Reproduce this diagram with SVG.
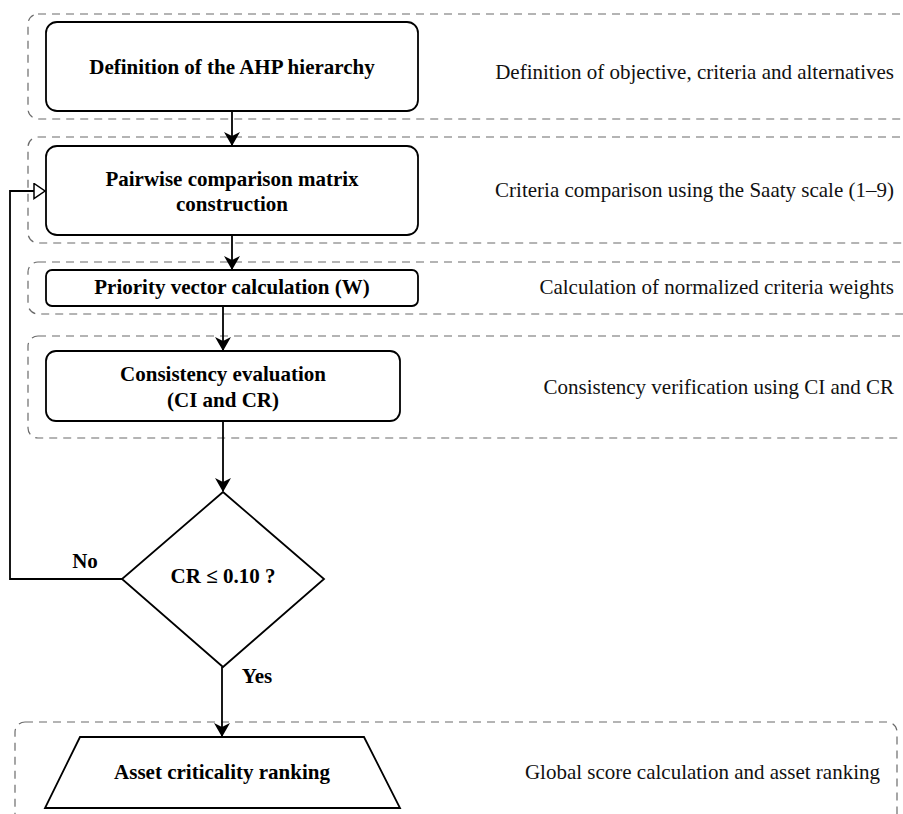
<svg xmlns="http://www.w3.org/2000/svg" width="903" height="814" viewBox="0 0 903 814">
<style>
.cont{fill:none;stroke:#6b6b6b;stroke-width:1.2;stroke-dasharray:8 6}
.box{fill:#fff;stroke:#000;stroke-width:1.8}
.bt{font-family:"Liberation Serif","Times New Roman",serif;font-weight:bold;font-size:21px;fill:#000;text-anchor:middle}
.rt{font-family:"Liberation Serif","Times New Roman",serif;font-size:21px;fill:#111;text-anchor:end}
.edge{fill:none;stroke:#000;stroke-width:1.8}
</style>
<defs>
<marker id="arr" viewBox="0 0 14 16" refX="13" refY="8" markerWidth="14" markerHeight="16" markerUnits="userSpaceOnUse" orient="auto">
<path d="M0,0 L14,8 L0,16 L4,8 Z" fill="#000"/>
</marker>
<marker id="open" viewBox="0 0 13 17" refX="12" refY="8.5" markerWidth="13" markerHeight="17" markerUnits="userSpaceOnUse" orient="auto">
<path d="M1,1 L12,8.5 L1,16 Z" fill="#fff" stroke="#000" stroke-width="1.5"/>
</marker>
</defs>
<g id="containers">
<rect class="cont" x="28" y="14" width="890" height="105" rx="10"/>
<rect class="cont" x="28" y="137" width="890" height="106" rx="10"/>
<rect class="cont" x="28" y="262" width="890" height="52" rx="10"/>
<rect class="cont" x="28" y="336" width="890" height="102" rx="10"/>
<rect class="cont" x="15" y="722" width="882" height="110" rx="10"/>
</g>
<g id="connectors">
<line class="edge" x1="232" y1="111" x2="232" y2="145" marker-end="url(#arr)"/>
<line class="edge" x1="232" y1="235" x2="232" y2="269" marker-end="url(#arr)"/>
<line class="edge" x1="223" y1="306" x2="223" y2="350" marker-end="url(#arr)"/>
<line class="edge" x1="223" y1="421" x2="223" y2="491" marker-end="url(#arr)"/>
<line class="edge" x1="222" y1="667" x2="222" y2="736" marker-end="url(#arr)"/>
<polyline class="edge" points="122,579 10,579 10,191 45,191" marker-end="url(#open)"/>
<text class="bt" x="85" y="568">No</text>
<text class="bt" x="257" y="683">Yes</text>
</g>
<g id="n1">
<rect class="box" x="46" y="22" width="372" height="89" rx="11"/>
<text class="bt" x="232" y="74">Definition of the AHP hierarchy</text>
</g>
<g id="d1"><text class="rt" x="894" y="79">Definition of objective, criteria and alternatives</text></g>
<g id="n2">
<rect class="box" x="46" y="146" width="372" height="89" rx="11"/>
<text class="bt" x="232" y="186">Pairwise comparison matrix</text>
<text class="bt" x="232" y="211">construction</text>
</g>
<g id="d2"><text class="rt" x="894" y="197">Criteria comparison using the Saaty scale (1–9)</text></g>
<g id="n3">
<rect class="box" x="46" y="270" width="372" height="36" rx="6"/>
<text class="bt" x="232" y="294">Priority vector calculation (W)</text>
</g>
<g id="d3"><text class="rt" x="894" y="294">Calculation of normalized criteria weights</text></g>
<g id="n4">
<rect class="box" x="46" y="351" width="354" height="70" rx="10"/>
<text class="bt" x="223" y="381">Consistency evaluation</text>
<text class="bt" x="223" y="407">(CI and CR)</text>
</g>
<g id="d4"><text class="rt" x="894" y="394">Consistency verification using CI and CR</text></g>
<g id="n5">
<polygon class="box" points="223,492 324,579 223,667 122,579"/>
<text class="bt" x="223" y="583">CR ≤ 0.10 ?</text>
</g>
<g id="n6">
<polygon class="box" points="80,737 364,737 400,808 45,808"/>
<text class="bt" x="222" y="779">Asset criticality ranking</text>
</g>
<g id="d6"><text class="rt" x="880" y="779">Global score calculation and asset ranking</text></g>
</svg>
